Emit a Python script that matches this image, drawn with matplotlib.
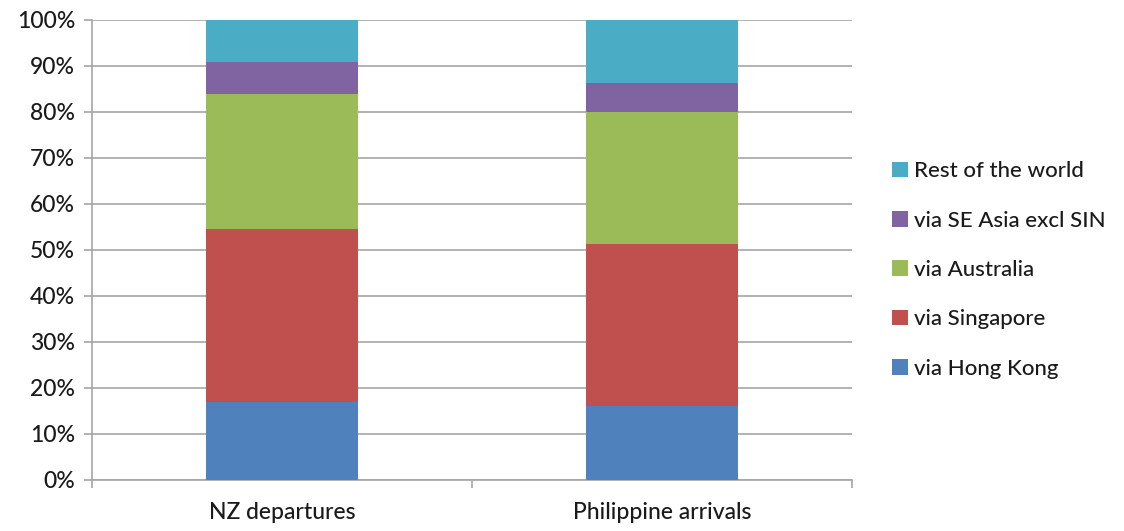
import matplotlib
matplotlib.use('Agg')
import matplotlib.pyplot as plt
import numpy as np
from matplotlib.patches import Patch

plt.rcParams['font.family'] = ['Lato', 'DejaVu Sans']

categories = ['NZ departures', 'Philippine arrivals']
series_names = ['via Hong Kong', 'via Singapore', 'via Australia',
                'via SE Asia excl SIN', 'Rest of the world']
hong_kong = [17.0, 16.1]
singapore = [37.5, 35.3]
australia = [29.4, 28.6]
se_asia = [6.9, 6.2]
rest_of_world = [9.2, 13.8]
colors = ['#4F81BD', '#C0504D', '#9BBB59', '#8064A2', '#4BACC6']

series = [hong_kong, singapore, australia, se_asia, rest_of_world]
fs = 16.5

fig = plt.figure(figsize=(11.24, 5.31), dpi=100)
ax = fig.add_axes([92 / 1124, 51 / 531, 760 / 1124, 460 / 531])

x = np.arange(len(categories))
bottom = np.zeros(len(categories))
for vals, c in zip(series, colors):
    ax.bar(x, vals, 0.4, bottom=bottom, color=c, zorder=3)
    bottom += np.array(vals)

ax.set_xlim(-0.5, 1.5)
ax.set_ylim(0, 100)
ax.set_yticks(np.arange(0, 101, 10))
ax.set_yticklabels([f'{v}%' for v in range(0, 101, 10)], fontsize=fs,
                   color='#1a1a1a', fontweight='medium')
ax.yaxis.grid(True, color='#a6a6a6', linewidth=1.2, zorder=0)

ax.set_xticks(x)
ax.set_xticklabels(categories, fontsize=fs, color='#1a1a1a', fontweight='medium')
ax.tick_params(axis='x', length=0, pad=16)
ax.set_xticks([-0.5, 0.5, 1.5], minor=True)
ax.tick_params(axis='x', which='minor', length=6, color='#a6a6a6', width=1.2)
ax.tick_params(axis='y', length=6, color='#a6a6a6', width=1.2, pad=6)

for s in ['top', 'right']:
    ax.spines[s].set_visible(False)
for s in ['left', 'bottom']:
    ax.spines[s].set_color('#a6a6a6')
    ax.spines[s].set_linewidth(1.2)

handles = [Patch(facecolor=c, label=n) for n, c in zip(series_names, colors)]
leg = fig.legend(handles[::-1], series_names[::-1], loc='center left',
                 bbox_to_anchor=(872 / 1124, 261 / 531), frameon=False,
                 prop={'size': 16, 'weight': 'medium'}, handlelength=0.7,
                 handleheight=0.7, handletextpad=0.3, labelspacing=1.32)
for t in leg.get_texts():
    t.set_color('#1a1a1a')

fig.savefig('out.png', dpi=100)
